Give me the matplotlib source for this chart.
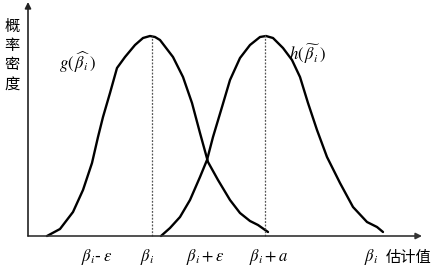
import numpy as np
import matplotlib
matplotlib.use('Agg')
import matplotlib.pyplot as plt

plt.rcParams['font.family'] = ['Noto Sans CJK SC', 'DejaVu Sans']
plt.rcParams['mathtext.fontset'] = 'stix'

# Curves (x = estimate, y = density, arbitrary units)
g_x = [19, 32, 45, 55, 64, 70, 75, 82, 89, 97, 107, 115, 122, 127, 132, 145,
       155, 164, 172, 180, 190, 202, 212, 222, 230, 240]
g_y = [0, 7, 24, 46, 73, 99, 119, 143, 168, 179, 191, 198, 200, 199, 196, 179,
       159, 133, 103, 74, 56, 36, 23, 15, 11, 4]

h_x = [133, 142, 152, 162, 172, 179, 185, 194, 202, 212, 222, 232, 238, 245,
       255, 264, 272, 280, 289, 299, 312, 325, 339, 349, 355]
h_y = [0, 8, 19, 36, 59, 76, 99, 129, 156, 178, 191, 199, 200, 198, 188, 176,
       159, 133, 106, 79, 53, 29, 14, 9, 4]

# peaks (dotted lines)
peak_x = [124, 237]
peak_y = [200, 201]

# x-axis labels
tick_pos = [69, 119, 177, 241, 343]
tick_labels = [r'$\beta_i$- $\varepsilon$', r'$\beta_i$', r'$\beta_i+\varepsilon$',
               r'$\beta_i+a$', r'$\beta_i$']

fig = plt.figure(figsize=(4.33, 2.7), dpi=100)
ax = fig.add_axes([0, 0, 1, 1])
ax.set_xlim(-28, 405)
ax.set_ylim(-34, 236)
ax.axis('off')

# axes with arrows
ax.annotate('', xy=(394, 0), xytext=(0, 0),
            arrowprops=dict(arrowstyle='-|>', color='#333333', lw=1.2,
                            mutation_scale=9, shrinkA=0, shrinkB=0))
ax.annotate('', xy=(0, 234), xytext=(0, 0),
            arrowprops=dict(arrowstyle='-|>', color='#222222', lw=1.2,
                            mutation_scale=9, shrinkA=0, shrinkB=0))

ax.plot(g_x, g_y, color='black', lw=1.7, solid_capstyle='round', solid_joinstyle='round')
ax.plot(h_x, h_y, color='black', lw=1.7, solid_capstyle='round', solid_joinstyle='round')

for px, py in zip(peak_x, peak_y):
    ax.plot([px, px], [0, py], color='#555555', lw=0.9, ls=(0, (1.5, 1.2)))

for xp, lab in zip(tick_pos, tick_labels):
    ax.text(xp, -21, lab, ha='center', va='center', fontsize=12)
ax.text(381, -21, '估计值', ha='center', va='center', fontsize=11)

# y label, one character per line
for i, ch in enumerate('概率密度'):
    ax.text(-16, 210 - i * 19.5, ch, ha='center', va='center', fontsize=11)

ax.text(50, 174, r'$g(\,\widehat{\beta_i}\,)$', ha='center', va='center', fontsize=12)
ax.text(280, 182, r'$h(\,\widetilde{\beta_i}\,)$', ha='center', va='center', fontsize=12)

fig.savefig('out.png', dpi=100)
